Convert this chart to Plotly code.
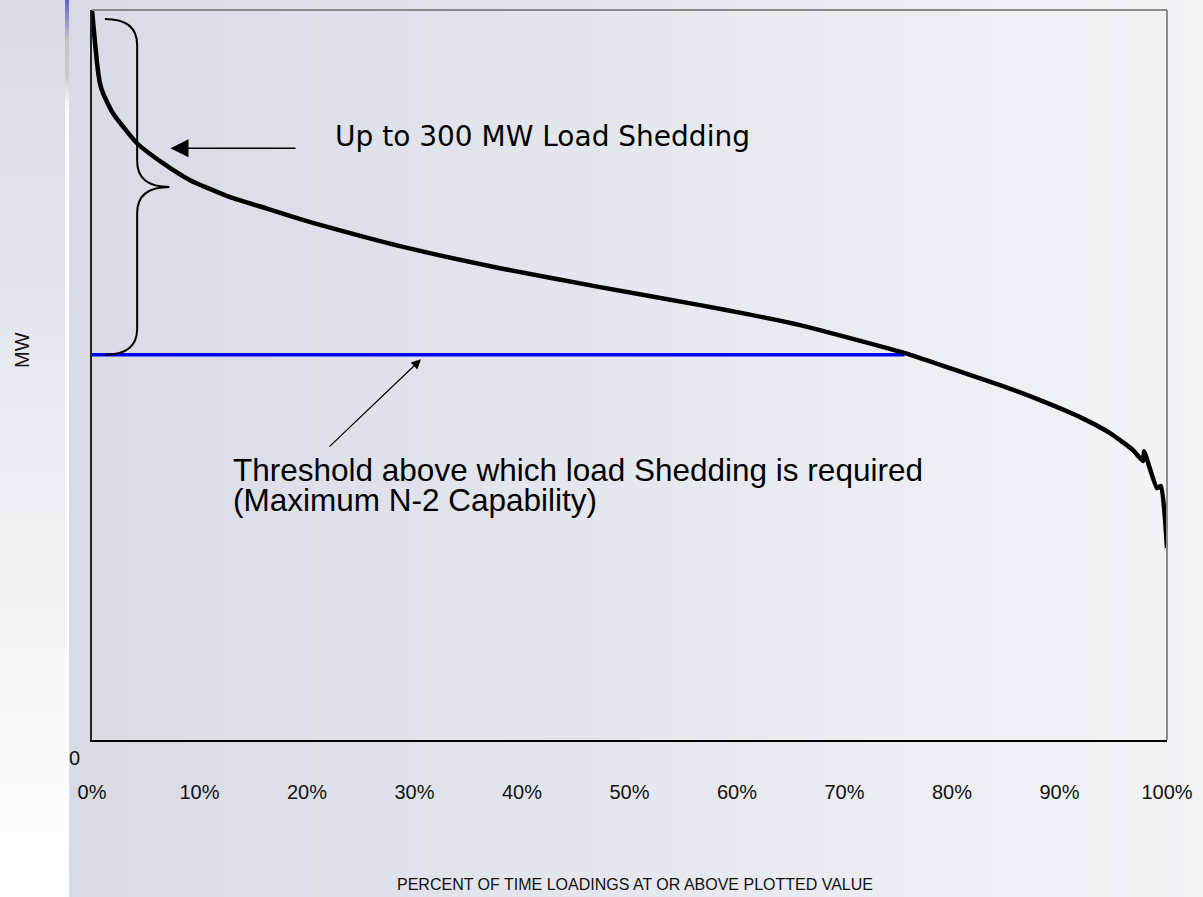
import plotly.graph_objects as go

# ---------------- data ----------------
pct_time = [0, 0.47, 0.74, 1.02, 1.95, 4.19, 6.60, 9.12, 12.84, 16.28, 19.07, 22.14,
            28.65, 37.95, 47.26, 56.56, 61.21, 65.86, 70.51, 75.63, 79.81, 84.47, 88.19,
            91.91, 94.70, 96.84, 97.77, 97.86, 99.07, 99.44, 100]
load_mw = [652, 604.5, 586.6, 577.7, 559.8, 533, 515.2, 500, 484.8, 474.6, 466.1, 457.6,
           441.1, 421.4, 404.5, 388.4, 379.9, 370.5, 358.9, 345.5, 332.1, 317, 303.6,
           288.4, 274.1, 258.9, 249.1, 258, 225, 226.8, 171.4]

threshold_mw = 344          # maximum N-2 capability
threshold_x = [-0.3, 75.6]  # extent of the threshold line (% of time)
shed_mw = 300               # load shedding span

x_ticks = [0, 10, 20, 30, 40, 50, 60, 70, 80, 90, 100]
x_tick_labels = ["0%", "10%", "20%", "30%", "40%", "50%", "60%", "70%", "80%", "90%", "100%"]
y_max = 652

FONT = "Liberation Sans, Arial, sans-serif"

# ---------------- layout geometry ----------------
W, H = 1203, 897
L, R, T, B = 92, 36, 10, 157
PW, PH = W - L - R, H - T - B


def px_x(px):
    return (px - L) / PW


def px_y(py):
    return (H - B - py) / PH


def mix(c1, c2, t):
    return "rgb(%d,%d,%d)" % tuple(round(a + (b - a) * t) for a, b in zip(c1, c2))


shapes = []
# left white area with vertical gradient
n = 40
for i in range(n):
    y0, y1 = i * H / n, (i + 1) * H / n + 1
    shapes.append(dict(type="rect", xref="paper", yref="paper", layer="below",
                       x0=px_x(0), x1=px_x(65), y0=px_y(y1), y1=px_y(y0),
                       fillcolor=mix((216, 219, 229), (255, 255, 255), (i + 0.5) / n),
                       line=dict(width=0)))
# main panel with horizontal gradient
n = 60
x_start = 69
for i in range(n):
    x0 = x_start + i * (W - x_start) / n
    x1 = x_start + (i + 1) * (W - x_start) / n + 1
    shapes.append(dict(type="rect", xref="paper", yref="paper", layer="below",
                       x0=px_x(x0), x1=px_x(x1), y0=px_y(H), y1=px_y(0),
                       fillcolor=mix((216, 219, 229), (243, 244, 248), (i + 0.5) / n),
                       line=dict(width=0)))
# thin white strip with blue top
shapes.append(dict(type="rect", xref="paper", yref="paper", layer="below",
                   x0=px_x(65), x1=px_x(69), y0=px_y(H), y1=px_y(0),
                   fillcolor="white", line=dict(width=0)))
stops = [(0, (100, 100, 210)), (12, (130, 130, 200)), (40, (195, 195, 200)),
         (75, (205, 205, 205)), (110, (255, 255, 255))]
for k in range(len(stops) - 1):
    ya, ca = stops[k]
    yb, cb = stops[k + 1]
    m = 8
    for j in range(m):
        y0 = ya + (yb - ya) * j / m
        y1 = ya + (yb - ya) * (j + 1) / m + 1
        shapes.append(dict(type="rect", xref="paper", yref="paper", layer="below",
                           x0=px_x(65), x1=px_x(69), y0=px_y(y1), y1=px_y(y0),
                           fillcolor=mix(ca, cb, (j + 0.5) / m), line=dict(width=0)))
# top and right frame lines (grey)
shapes.append(dict(type="line", xref="paper", yref="paper", x0=0, x1=1, y0=1, y1=1,
                   line=dict(color="#8a8a8a", width=2)))
shapes.append(dict(type="line", xref="paper", yref="paper", x0=1, x1=1, y0=0, y1=1,
                   line=dict(color="#8a8a8a", width=2)))

# curly brace spanning the 300 MW shedding band
yb0 = threshold_mw
yb1 = threshold_mw + shed_mw
ym = (yb0 + yb1) / 2
r = 26 / PH * y_max  # curl radius in MW
xa, xs, xm = 1.2, 4.2, 7.2
brace = (f"M {xa},{yb1} Q {xs},{yb1} {xs},{yb1 - r} L {xs},{ym + r} "
         f"Q {xs},{ym} {xm},{ym} Q {xs},{ym} {xs},{ym - r} L {xs},{yb0 + r} "
         f"Q {xs},{yb0} {xa},{yb0}")
shapes.append(dict(type="path", xref="x", yref="y", path=brace,
                   line=dict(color="black", width=2)))

fig = go.Figure()
fig.add_trace(go.Scatter(x=threshold_x, y=[threshold_mw, threshold_mw], mode="lines",
                         line=dict(color="#0000ff", width=3.5), hoverinfo="skip",
                         showlegend=False, cliponaxis=False))
fig.add_trace(go.Scatter(x=pct_time, y=load_mw, mode="lines",
                         line=dict(color="black", width=4.5, shape="spline", smoothing=0.5),
                         showlegend=False, cliponaxis=False))

annotations = [
    # arrow to the curve
    dict(x=7.3, y=528.6, ax=19.07, ay=528.6, xref="x", yref="y", axref="x", ayref="y",
         text="", showarrow=True, arrowhead=2, arrowsize=2.4, arrowwidth=1.5,
         arrowcolor="black", standoff=0),
    dict(x=22.42, y=539.3, xref="x", yref="y", text="Up to 300 MW Load Shedding",
         showarrow=False, xanchor="left", yanchor="middle",
         font=dict(family="DejaVu Sans, Verdana, sans-serif", size=28, color="black")),
    # arrow to the threshold
    dict(x=30.6, y=340, ax=21.95, ay=260.7, xref="x", yref="y", axref="x", ayref="y",
         text="", showarrow=True, arrowhead=2, arrowsize=1.6, arrowwidth=1.2,
         arrowcolor="black", standoff=0),
    dict(x=12.9, y=241.5, xref="x", yref="y",
         text="Threshold above which load Shedding is required",
         showarrow=False, xanchor="left", yanchor="middle",
         font=dict(family=FONT, size=31.5, color="black")),
    dict(x=12.9, y=214.5, xref="x", yref="y", text="(Maximum N-2 Capability)",
         showarrow=False, xanchor="left", yanchor="middle",
         font=dict(family=FONT, size=31.5, color="black")),
    # y-axis zero label and titles
    dict(x=px_x(74.5), y=px_y(758), xref="paper", yref="paper", text="0",
         showarrow=False, xanchor="center", yanchor="middle",
         font=dict(family=FONT, size=20, color="#111")),
    dict(x=px_x(22), y=px_y(350), xref="paper", yref="paper", text="MW", textangle=-90,
         showarrow=False, xanchor="center", yanchor="middle",
         font=dict(family=FONT, size=20, color="#111")),
    dict(x=px_x(635), y=px_y(885), xref="paper", yref="paper",
         text="PERCENT OF TIME LOADINGS AT OR ABOVE PLOTTED VALUE",
         showarrow=False, xanchor="center", yanchor="middle",
         font=dict(family=FONT, size=16, color="#111")),
]

fig.update_layout(
    width=W, height=H,
    margin=dict(l=L, r=R, t=T, b=B, autoexpand=False),
    paper_bgcolor="white", plot_bgcolor="rgba(0,0,0,0)",
    shapes=shapes, annotations=annotations, showlegend=False,
    xaxis=dict(range=[0, 100], tickvals=x_ticks, ticktext=x_tick_labels,
               showgrid=False, zeroline=False, showline=True, linecolor="black",
               linewidth=2, ticks="outside", ticklen=33, tickcolor="rgba(0,0,0,0)",
               tickfont=dict(family=FONT, size=20, color="#111"), fixedrange=True),
    yaxis=dict(range=[0, y_max], showgrid=False, zeroline=False, showline=True,
               linecolor="#222", linewidth=1.5, showticklabels=False, ticks="",
               fixedrange=True),
)

fig.write_html("out.html", config={"displayModeBar": False},
               post_script="document.body.style.margin='0px';")
